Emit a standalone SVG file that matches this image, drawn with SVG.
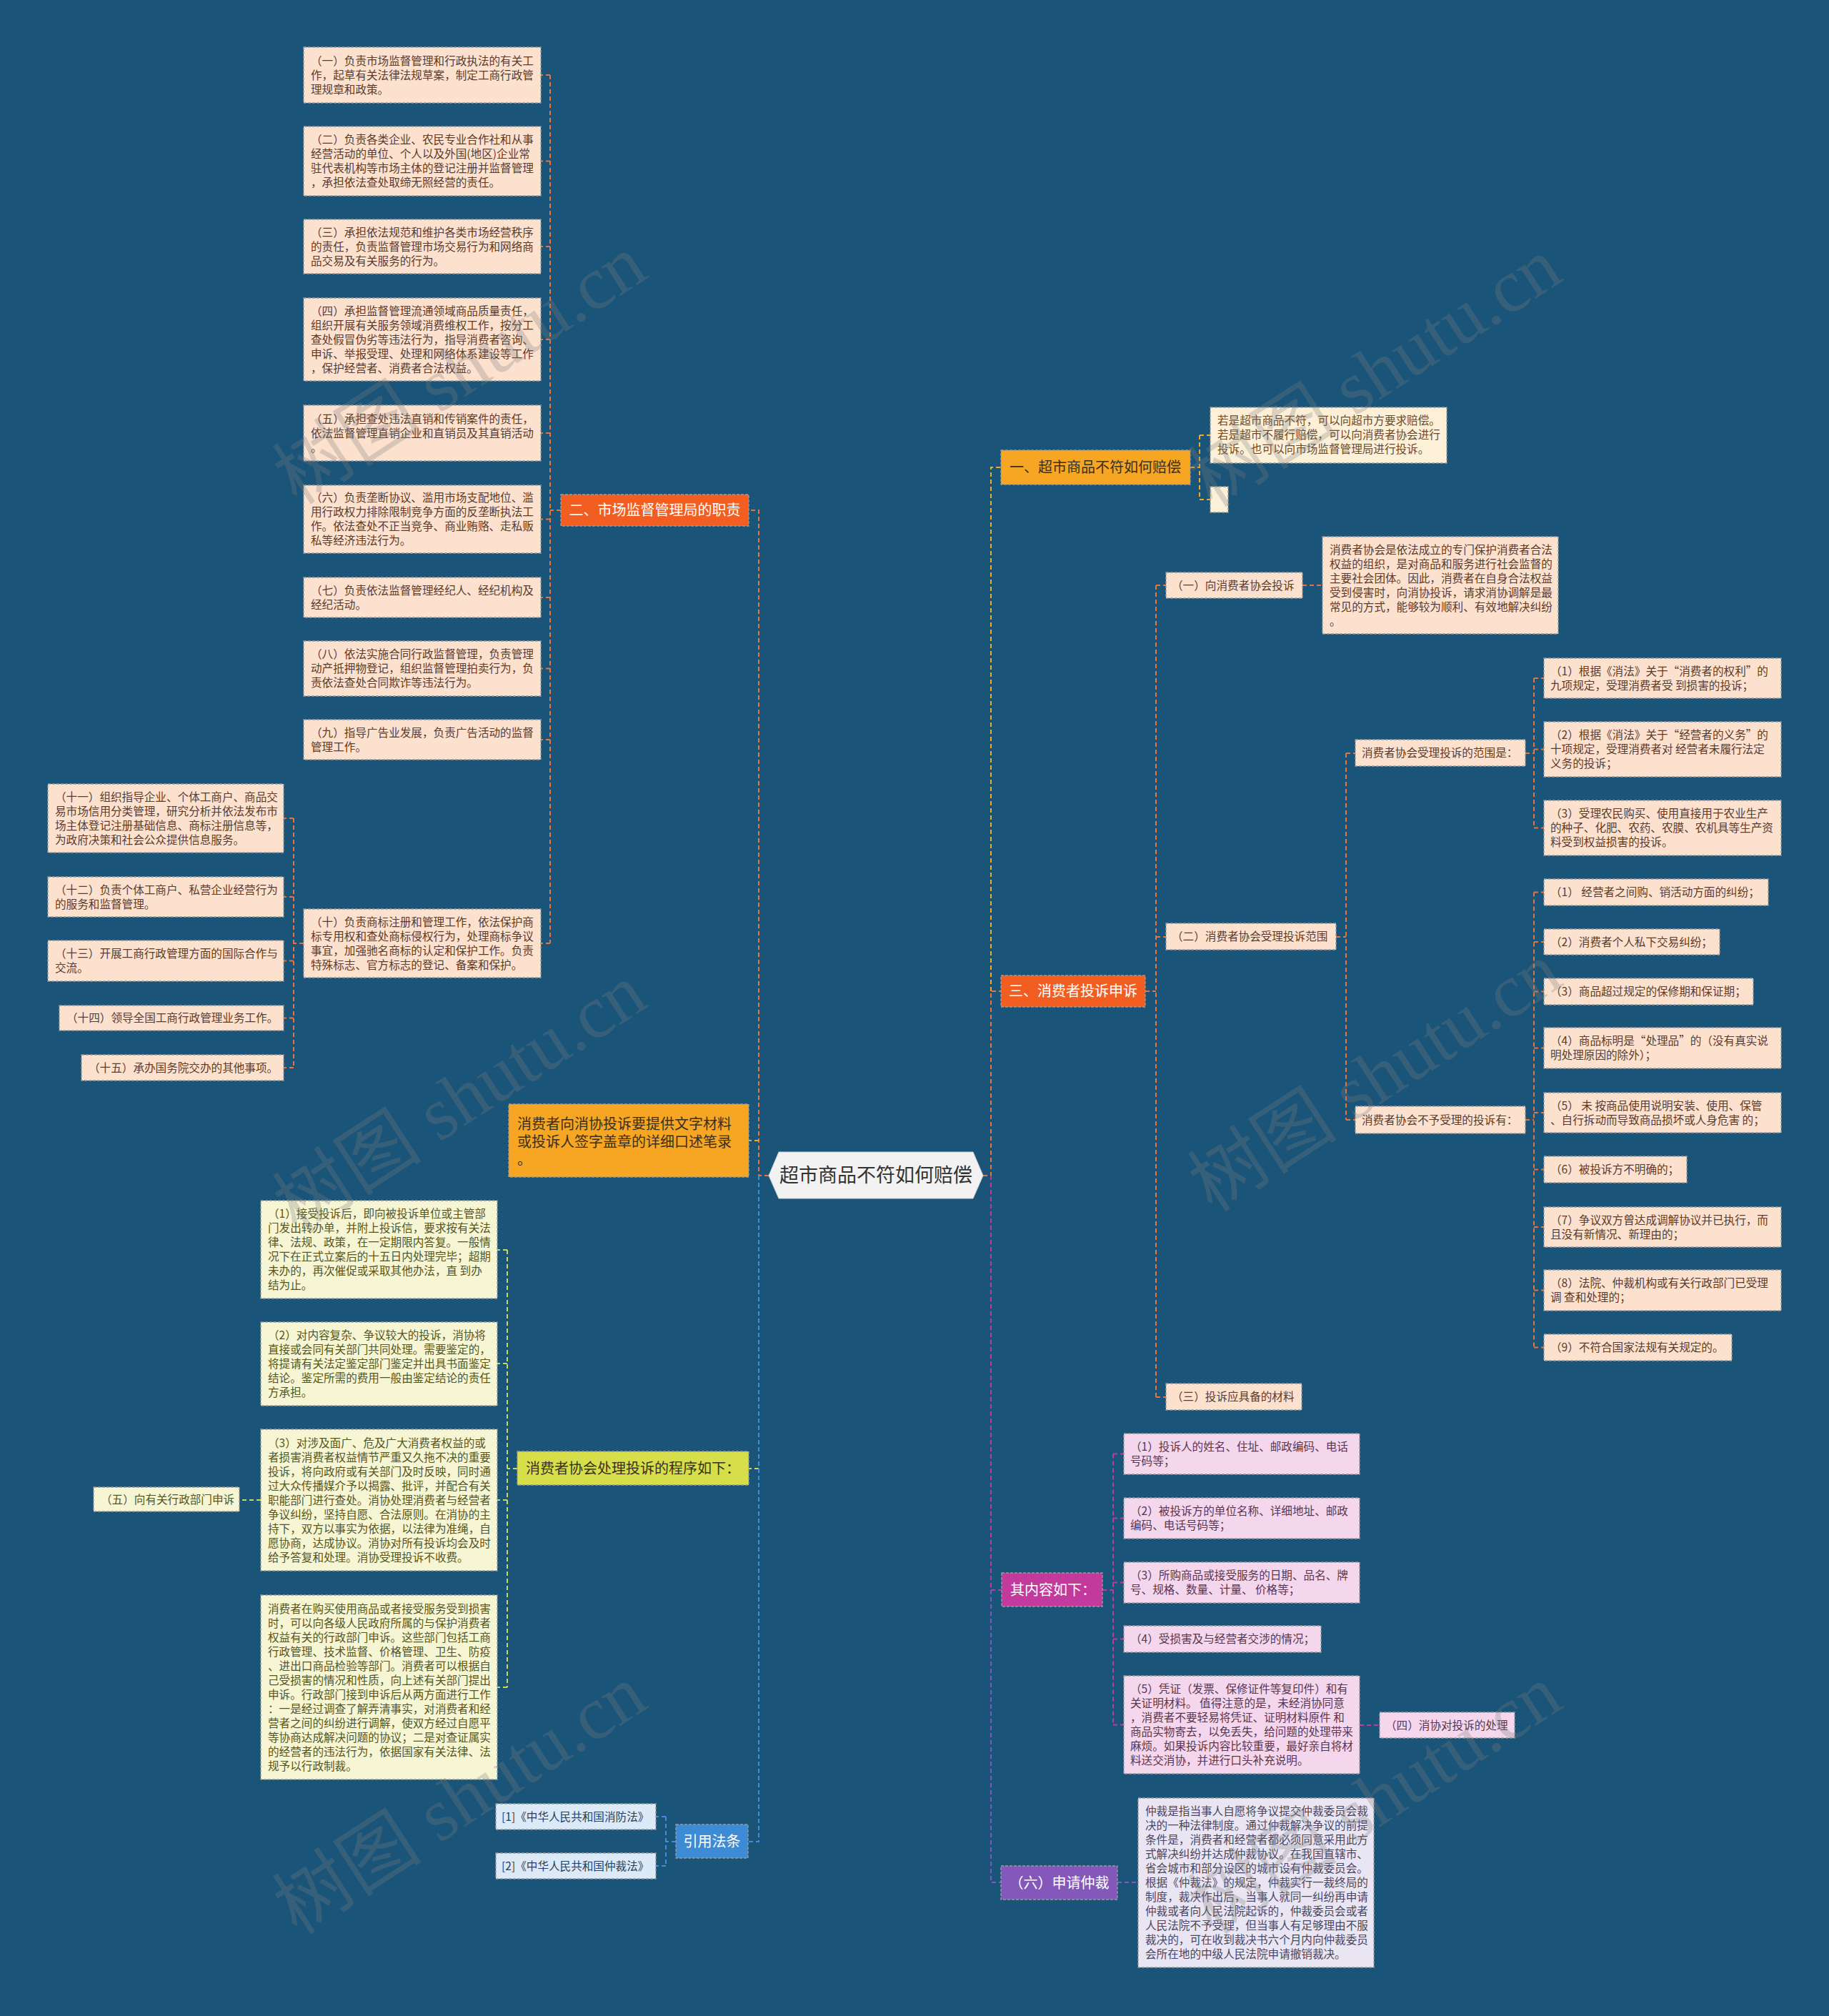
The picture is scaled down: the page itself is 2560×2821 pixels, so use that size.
<svg xmlns="http://www.w3.org/2000/svg" width="2560" height="2821" viewBox="0 0 2560 2821">
<style>
.tx{font-family:"Noto Sans CJK SC","Noto Sans",sans-serif;font-size:15.6px}
.tt{font-family:"Noto Sans CJK SC","Noto Sans",sans-serif;font-size:20px}
.bx{stroke:#9a9a9a;stroke-width:1.3;stroke-dasharray:4 2}
.peach{fill:#fde1cf}.cream{fill:#fdf0d8}.pyel{fill:#f6f5d4}.pink{fill:#f4d7ec}.lav{fill:#e9e5f3}.lblue{fill:#dce9f7}
.ored{fill:#f25e22}.amber{fill:#f6a623}.ygreen{fill:#d6df4a}.blue{fill:#3d8bd4}.mag{fill:#c23a9c}.purp{fill:#8458ba}
.cpeach{fill:#5b3b2b}.ccream{fill:#6b4a2a}.cyel{fill:#55551e}.cpink{fill:#5a3550}.clav{fill:#4a4560}.cblue{fill:#2c3e5a}.cw{fill:#ffffff}.cd{fill:#3a3020}
.ln{fill:none;stroke-width:2;stroke-dasharray:6 4}
.lo{stroke:#e8743b}.la{stroke:#f0a82a}.lyg{stroke:#cbd95a}.lb{stroke:#3f8fd8}.lm{stroke:#c2399b}.lp{stroke:#8257c0}
.wm{font-family:"Liberation Serif","Noto Sans CJK SC",serif;font-size:105px;fill:#808080;opacity:0.28}
</style>
<rect x="0" y="0" width="2560" height="2821" fill="#1a5479"/>

<g id="connectors">
<!-- left main -->
<path class="ln lo" d="M1076 1645 H1062 V714 H1048"/>
<path class="ln la" d="M1062 1596 H1048"/>
<path class="ln lyg" d="M1062 2055 H1048"/>
<path class="ln lb" d="M1062 1645 V2577 H1047"/>
<!-- 二 children -->
<path class="ln lo" d="M785 714 H770"/>
<path class="ln lo" d="M770 105 V1320"/>
<path class="ln lo" d="M770 105 H757 M770 225.5 H757 M770 345 H757 M770 475 H757 M770 606 H757 M770 726.5 H757 M770 836 H757 M770 935.5 H757 M770 1035 H757 M770 1320 H757"/>
<path class="ln lo" d="M425 1320 H411"/>
<path class="ln lo" d="M411 1145 V1494"/>
<path class="ln lo" d="M411 1145 H397 M411 1255 H397 M411 1344.5 H397 M411 1424.5 H397 M411 1494 H397"/>
<!-- 程序 children -->
<path class="ln lyg" d="M724 2055 H710"/>
<path class="ln lyg" d="M710 1749 V2361"/>
<path class="ln lyg" d="M710 1749 H696 M710 1908 H696 M710 2099 H696 M710 2361 H696"/>
<path class="ln lyg" d="M365 2099 H335"/>
<!-- 引用法条 children -->
<path class="ln lb" d="M946 2577 H932"/>
<path class="ln lb" d="M932 2542 V2611"/>
<path class="ln lb" d="M932 2542 H918 M932 2611 H918"/>
<!-- right main -->
<path class="ln lo" d="M1376 1645 H1387 V1387 H1401"/>
<path class="ln la" d="M1387 1387 V654 H1401"/>
<path class="ln lm" d="M1387 1645 V2225 H1402"/>
<path class="ln lp" d="M1387 2225 V2634 H1401"/>
<!-- 一 children -->
<path class="ln la" d="M1666 654 H1679"/>
<path class="ln la" d="M1679 609 V699"/>
<path class="ln la" d="M1679 609 H1694 M1679 699 H1694"/>
<!-- 三 children -->
<path class="ln lo" d="M1603 1387 H1618"/>
<path class="ln lo" d="M1618 819 V1955"/>
<path class="ln lo" d="M1618 819 H1632 M1618 1311 H1632 M1618 1955 H1632"/>
<path class="ln lo" d="M1823 819 H1851"/>
<path class="ln lo" d="M1870 1311 H1884"/>
<path class="ln lo" d="M1884 1054 V1567"/>
<path class="ln lo" d="M1884 1054 H1897 M1884 1567 H1897"/>
<path class="ln lo" d="M2135 1054 H2147"/>
<path class="ln lo" d="M2147 949 V1158.5"/>
<path class="ln lo" d="M2147 949 H2161 M2147 1048.5 H2161 M2147 1158.5 H2161"/>
<path class="ln lo" d="M2135 1567 H2147"/>
<path class="ln lo" d="M2147 1248.5 V1885.5"/>
<path class="ln lo" d="M2147 1248.5 H2161 M2147 1318 H2161 M2147 1387.5 H2161 M2147 1466.5 H2161 M2147 1557 H2161 M2147 1636.5 H2161 M2147 1717 H2161 M2147 1805.5 H2161 M2147 1885.5 H2161"/>
<!-- 其内容 children -->
<path class="ln lm" d="M1543 2225 H1558"/>
<path class="ln lm" d="M1558 2034.5 V2413.5"/>
<path class="ln lm" d="M1558 2034.5 H1573 M1558 2124.5 H1573 M1558 2214.5 H1573 M1558 2293.5 H1573 M1558 2413.5 H1573"/>
<path class="ln lm" d="M1903 2414 H1931"/>
<path class="ln lp" d="M1564 2634 H1593"/>
</g>

<g id="center">
<polygon points="1076,1645 1090,1612 1362,1612 1376,1645 1362,1677 1090,1677" fill="#f2f2f2" stroke="#cfcfcf" stroke-width="1"/>
<text class="tx" x="1226" y="1654" text-anchor="middle" style="font-size:27px" fill="#333333">超市商品不符如何赔偿</text>
</g>

<!-- LEFT: 二 -->
<g id="n-er">
<rect class="bx ored" x="785" y="692" width="263" height="44"/>
<text class="tt cw" x="916.5" y="721" text-anchor="middle">二、市场监督管理局的职责</text>
</g>
<g id="n-er-1"><rect class="bx peach" x="425" y="66" width="332" height="78"/>
<text class="tx cpeach" x="435" y="90.5"><tspan x="435">（一）负责市场监督管理和行政执法的有关工</tspan><tspan x="435" dy="20">作，起草有关法律法规草案，制定工商行政管</tspan><tspan x="435" dy="20">理规章和政策。</tspan></text></g>
<g id="n-er-2"><rect class="bx peach" x="425" y="177" width="332" height="97"/>
<text class="tx cpeach" x="435" y="201"><tspan x="435">（二）负责各类企业、农民专业合作社和从事</tspan><tspan x="435" dy="20">经营活动的单位、个人以及外国(地区)企业常</tspan><tspan x="435" dy="20">驻代表机构等市场主体的登记注册并监督管理</tspan><tspan x="435" dy="20">，承担依法查处取缔无照经营的责任。</tspan></text></g>
<g id="n-er-3"><rect class="bx peach" x="425" y="307" width="332" height="76"/>
<text class="tx cpeach" x="435" y="330.5"><tspan x="435">（三）承担依法规范和维护各类市场经营秩序</tspan><tspan x="435" dy="20">的责任，负责监督管理市场交易行为和网络商</tspan><tspan x="435" dy="20">品交易及有关服务的行为。</tspan></text></g>
<g id="n-er-4"><rect class="bx peach" x="425" y="417" width="332" height="116"/>
<text class="tx cpeach" x="435" y="440.5"><tspan x="435">（四）承担监督管理流通领域商品质量责任，</tspan><tspan x="435" dy="20">组织开展有关服务领域消费维权工作，按分工</tspan><tspan x="435" dy="20">查处假冒伪劣等违法行为，指导消费者咨询、</tspan><tspan x="435" dy="20">申诉、举报受理、处理和网络体系建设等工作</tspan><tspan x="435" dy="20">，保护经营者、消费者合法权益。</tspan></text></g>
<g id="n-er-5"><rect class="bx peach" x="425" y="567" width="332" height="78"/>
<text class="tx cpeach" x="435" y="591.5"><tspan x="435">（五）承担查处违法直销和传销案件的责任，</tspan><tspan x="435" dy="20">依法监督管理直销企业和直销员及其直销活动</tspan><tspan x="435" dy="20">。</tspan></text></g>
<g id="n-er-6"><rect class="bx peach" x="425" y="679" width="332" height="95"/>
<text class="tx cpeach" x="435" y="702"><tspan x="435">（六）负责垄断协议、滥用市场支配地位、滥</tspan><tspan x="435" dy="20">用行政权力排除限制竞争方面的反垄断执法工</tspan><tspan x="435" dy="20">作。依法查处不正当竞争、商业贿赂、走私贩</tspan><tspan x="435" dy="20">私等经济违法行为。</tspan></text></g>
<g id="n-er-7"><rect class="bx peach" x="425" y="808" width="332" height="56"/>
<text class="tx cpeach" x="435" y="831.5"><tspan x="435">（七）负责依法监督管理经纪人、经纪机构及</tspan><tspan x="435" dy="20">经纪活动。</tspan></text></g>
<g id="n-er-8"><rect class="bx peach" x="425" y="897" width="332" height="77"/>
<text class="tx cpeach" x="435" y="921"><tspan x="435">（八）依法实施合同行政监督管理，负责管理</tspan><tspan x="435" dy="20">动产抵押物登记，组织监督管理拍卖行为，负</tspan><tspan x="435" dy="20">责依法查处合同欺诈等违法行为。</tspan></text></g>
<g id="n-er-9"><rect class="bx peach" x="425" y="1007" width="332" height="56"/>
<text class="tx cpeach" x="435" y="1030.5"><tspan x="435">（九）指导广告业发展，负责广告活动的监督</tspan><tspan x="435" dy="20">管理工作。</tspan></text></g>
<g id="n-er-10"><rect class="bx peach" x="425" y="1272" width="332" height="96"/>
<text class="tx cpeach" x="435" y="1295.5"><tspan x="435">（十）负责商标注册和管理工作，依法保护商</tspan><tspan x="435" dy="20">标专用权和查处商标侵权行为，处理商标争议</tspan><tspan x="435" dy="20">事宜，加强驰名商标的认定和保护工作。负责</tspan><tspan x="435" dy="20">特殊标志、官方标志的登记、备案和保护。</tspan></text></g>
<g id="n-er-11"><rect class="bx peach" x="67" y="1097" width="330" height="96"/>
<text class="tx cpeach" x="77" y="1120.5"><tspan x="77">（十一）组织指导企业、个体工商户、商品交</tspan><tspan x="77" dy="20">易市场信用分类管理，研究分析并依法发布市</tspan><tspan x="77" dy="20">场主体登记注册基础信息、商标注册信息等，</tspan><tspan x="77" dy="20">为政府决策和社会公众提供信息服务。</tspan></text></g>
<g id="n-er-12"><rect class="bx peach" x="67" y="1227" width="330" height="56"/>
<text class="tx cpeach" x="77" y="1250.5"><tspan x="77">（十二）负责个体工商户、私营企业经营行为</tspan><tspan x="77" dy="20">的服务和监督管理。</tspan></text></g>
<g id="n-er-13"><rect class="bx peach" x="67" y="1316" width="330" height="57"/>
<text class="tx cpeach" x="77" y="1340"><tspan x="77">（十三）开展工商行政管理方面的国际合作与</tspan><tspan x="77" dy="20">交流。</tspan></text></g>
<g id="n-er-14"><rect class="bx peach" x="83" y="1407" width="314" height="35"/>
<text class="tx cpeach" x="93" y="1430">（十四）领导全国工商行政管理业务工作。</text></g>
<g id="n-er-15"><rect class="bx peach" x="114" y="1476" width="283" height="36"/>
<text class="tx cpeach" x="124" y="1499.5">（十五）承办国务院交办的其他事项。</text></g>

<!-- LEFT: 消费者向消协 -->
<g id="n-material">
<rect class="bx amber" x="712" y="1545" width="336" height="102"/>
<text class="tt cd" x="724" y="1580"><tspan x="724">消费者向消协投诉要提供文字材料</tspan><tspan x="724" dy="25">或投诉人签字盖章的详细口述笔录</tspan><tspan x="724" dy="25">。</tspan></text>
</g>

<!-- LEFT: 程序 -->
<g id="n-proc">
<rect class="bx ygreen" x="724" y="2031" width="324" height="47"/>
<text class="tt cd" x="736" y="2061.5">消费者协会处理投诉的程序如下：</text>
</g>
<g id="n-proc-1"><rect class="bx pyel" x="365" y="1680" width="331" height="137"/>
<text class="tx cyel" x="375" y="1704"><tspan x="375">（1）接受投诉后，即向被投诉单位或主管部</tspan><tspan x="375" dy="20">门发出转办单，并附上投诉信，要求按有关法</tspan><tspan x="375" dy="20">律、法规、政策，在一定期限内答复。一般情</tspan><tspan x="375" dy="20">况下在正式立案后的十五日内处理完毕；超期</tspan><tspan x="375" dy="20">未办的，再次催促或采取其他办法，直 到办</tspan><tspan x="375" dy="20">结为止。</tspan></text></g>
<g id="n-proc-2"><rect class="bx pyel" x="365" y="1850" width="331" height="117"/>
<text class="tx cyel" x="375" y="1874"><tspan x="375">（2）对内容复杂、争议较大的投诉，消协将</tspan><tspan x="375" dy="20">直接或会同有关部门共同处理。需要鉴定的，</tspan><tspan x="375" dy="20">将提请有关法定鉴定部门鉴定并出具书面鉴定</tspan><tspan x="375" dy="20">结论。鉴定所需的费用一般由鉴定结论的责任</tspan><tspan x="375" dy="20">方承担。</tspan></text></g>
<g id="n-proc-3"><rect class="bx pyel" x="365" y="2000" width="331" height="198"/>
<text class="tx cyel" x="375" y="2024.5"><tspan x="375">（3）对涉及面广、危及广大消费者权益的或</tspan><tspan x="375" dy="20">者损害消费者权益情节严重又久拖不决的重要</tspan><tspan x="375" dy="20">投诉，将向政府或有关部门及时反映，同时通</tspan><tspan x="375" dy="20">过大众传播媒介予以揭露、批评，并配合有关</tspan><tspan x="375" dy="20">职能部门进行查处。消协处理消费者与经营者</tspan><tspan x="375" dy="20">争议纠纷，坚持自愿、合法原则。在消协的主</tspan><tspan x="375" dy="20">持下，双方以事实为依据，以法律为准绳，自</tspan><tspan x="375" dy="20">愿协商，达成协议。消协对所有投诉均会及时</tspan><tspan x="375" dy="20">给予答复和处理。消协受理投诉不收费。</tspan></text></g>
<g id="n-proc-5"><rect class="bx pyel" x="131" y="2081" width="204" height="34"/>
<text class="tx cyel" x="141" y="2103.5">（五）向有关行政部门申诉</text></g>
<g id="n-proc-4"><rect class="bx pyel" x="365" y="2232" width="331" height="258"/>
<text class="tx cyel" x="375" y="2256.5"><tspan x="375">消费者在购买使用商品或者接受服务受到损害</tspan><tspan x="375" dy="20">时，可以向各级人民政府所属的与保护消费者</tspan><tspan x="375" dy="20">权益有关的行政部门申诉。这些部门包括工商</tspan><tspan x="375" dy="20">行政管理、技术监督、价格管理、卫生、防疫</tspan><tspan x="375" dy="20">、进出口商品检验等部门。消费者可以根据自</tspan><tspan x="375" dy="20">己受损害的情况和性质，向上述有关部门提出</tspan><tspan x="375" dy="20">申诉。行政部门接到申诉后从两方面进行工作</tspan><tspan x="375" dy="20">：一是经过调查了解弄清事实，对消费者和经</tspan><tspan x="375" dy="20">营者之间的纠纷进行调解，使双方经过自愿平</tspan><tspan x="375" dy="20">等协商达成解决问题的协议；二是对查证属实</tspan><tspan x="375" dy="20">的经营者的违法行为，依据国家有关法律、法</tspan><tspan x="375" dy="20">规予以行政制裁。</tspan></text></g>

<!-- LEFT: 引用法条 -->
<g id="n-law">
<rect class="bx blue" x="946" y="2553" width="101" height="47"/>
<text class="tt cw" x="996.5" y="2583.5" text-anchor="middle">引用法条</text>
</g>
<g id="n-law-1"><rect class="bx lblue" x="694" y="2524" width="224" height="36"/>
<text class="tx cblue" x="702" y="2547.5">[1]《中华人民共和国消防法》</text></g>
<g id="n-law-2"><rect class="bx lblue" x="694" y="2593" width="224" height="36"/>
<text class="tx cblue" x="702" y="2616.5">[2]《中华人民共和国仲裁法》</text></g>

<!-- RIGHT: 一 -->
<g id="n-yi">
<rect class="bx amber" x="1401" y="630" width="265" height="48"/>
<text class="tt cd" x="1413" y="661">一、超市商品不符如何赔偿</text>
</g>
<g id="n-yi-1"><rect class="bx cream" x="1694" y="570" width="331" height="78"/>
<text class="tx ccream" x="1704" y="593.5"><tspan x="1704">若是超市商品不符，可以向超市方要求赔偿。</tspan><tspan x="1704" dy="20">若是超市不履行赔偿，可以向消费者协会进行</tspan><tspan x="1704" dy="20">投诉。也可以向市场监督管理局进行投诉。</tspan></text></g>
<g id="n-yi-2"><rect class="bx cream" x="1694" y="681" width="25" height="36"/></g>

<!-- RIGHT: 三 -->
<g id="n-san">
<rect class="bx ored" x="1401" y="1365" width="202" height="44"/>
<text class="tt cw" x="1502" y="1394" text-anchor="middle">三、消费者投诉申诉</text>
</g>
<g id="n-san-1"><rect class="bx peach" x="1632" y="801" width="191" height="36"/>
<text class="tx cpeach" x="1640" y="824.5">（一）向消费者协会投诉</text></g>
<g id="n-san-1a"><rect class="bx peach" x="1851" y="751" width="330" height="136"/>
<text class="tx cpeach" x="1861" y="774.5"><tspan x="1861">消费者协会是依法成立的专门保护消费者合法</tspan><tspan x="1861" dy="20">权益的组织，是对商品和服务进行社会监督的</tspan><tspan x="1861" dy="20">主要社会团体。因此，消费者在自身合法权益</tspan><tspan x="1861" dy="20">受到侵害时，向消协投诉，请求消协调解是最</tspan><tspan x="1861" dy="20">常见的方式，能够较为顺利、有效地解决纠纷</tspan><tspan x="1861" dy="20">。</tspan></text></g>
<g id="n-san-2"><rect class="bx peach" x="1632" y="1292" width="238" height="37"/>
<text class="tx cpeach" x="1640" y="1316">（二）消费者协会受理投诉范围</text></g>
<g id="n-scope"><rect class="bx peach" x="1897" y="1035" width="238" height="37"/>
<text class="tx cpeach" x="1906" y="1059">消费者协会受理投诉的范围是：</text></g>
<g id="n-scope-1"><rect class="bx peach" x="2161" y="921" width="332" height="56"/>
<text class="tx cpeach" x="2170" y="944.5"><tspan x="2170">（1）根据《消法》关于“消费者的权利”的</tspan><tspan x="2170" dy="20">九项规定，受理消费者受 到损害的投诉；</tspan></text></g>
<g id="n-scope-2"><rect class="bx peach" x="2161" y="1010" width="332" height="77"/>
<text class="tx cpeach" x="2170" y="1034"><tspan x="2170">（2）根据《消法》关于“经营者的义务”的</tspan><tspan x="2170" dy="20">十项规定，受理消费者对 经营者未履行法定</tspan><tspan x="2170" dy="20">义务的投诉；</tspan></text></g>
<g id="n-scope-3"><rect class="bx peach" x="2161" y="1120" width="332" height="77"/>
<text class="tx cpeach" x="2170" y="1144"><tspan x="2170">（3）受理农民购买、使用直接用于农业生产</tspan><tspan x="2170" dy="20">的种子、化肥、农药、农膜、农机具等生产资</tspan><tspan x="2170" dy="20">料受到权益损害的投诉。</tspan></text></g>
<g id="n-reject"><rect class="bx peach" x="1897" y="1548" width="238" height="38"/>
<text class="tx cpeach" x="1906" y="1572.5">消费者协会不予受理的投诉有：</text></g>
<g id="n-reject-1"><rect class="bx peach" x="2161" y="1230" width="314" height="37"/>
<text class="tx cpeach" x="2170" y="1254">（1） 经营者之间购、销活动方面的纠纷；</text></g>
<g id="n-reject-2"><rect class="bx peach" x="2161" y="1300" width="246" height="36"/>
<text class="tx cpeach" x="2170" y="1323.5">（2）消费者个人私下交易纠纷；</text></g>
<g id="n-reject-3"><rect class="bx peach" x="2161" y="1369" width="293" height="37"/>
<text class="tx cpeach" x="2170" y="1393">（3）商品超过规定的保修期和保证期；</text></g>
<g id="n-reject-4"><rect class="bx peach" x="2161" y="1438" width="332" height="57"/>
<text class="tx cpeach" x="2170" y="1462"><tspan x="2170">（4）商品标明是“处理品”的（没有真实说</tspan><tspan x="2170" dy="20">明处理原因的除外）；</tspan></text></g>
<g id="n-reject-5"><rect class="bx peach" x="2161" y="1529" width="332" height="56"/>
<text class="tx cpeach" x="2170" y="1552.5"><tspan x="2170">（5） 未 按商品使用说明安装、使用、保管</tspan><tspan x="2170" dy="20">、自行拆动而导致商品损坏或人身危害 的；</tspan></text></g>
<g id="n-reject-6"><rect class="bx peach" x="2161" y="1618" width="200" height="37"/>
<text class="tx cpeach" x="2170" y="1642">（6）被投诉方不明确的；</text></g>
<g id="n-reject-7"><rect class="bx peach" x="2161" y="1689" width="332" height="56"/>
<text class="tx cpeach" x="2170" y="1712.5"><tspan x="2170">（7）争议双方曾达成调解协议并已执行，而</tspan><tspan x="2170" dy="20">且没有新情况、新理由的；</tspan></text></g>
<g id="n-reject-8"><rect class="bx peach" x="2161" y="1777" width="332" height="57"/>
<text class="tx cpeach" x="2170" y="1801"><tspan x="2170">（8）法院、仲裁机构或有关行政部门已受理</tspan><tspan x="2170" dy="20">调 查和处理的；</tspan></text></g>
<g id="n-reject-9"><rect class="bx peach" x="2161" y="1867" width="263" height="37"/>
<text class="tx cpeach" x="2170" y="1891">（9）不符合国家法规有关规定的。</text></g>
<g id="n-san-3"><rect class="bx peach" x="1632" y="1936" width="190" height="37"/>
<text class="tx cpeach" x="1640" y="1960">（三）投诉应具备的材料</text></g>

<!-- RIGHT: 其内容如下 -->
<g id="n-content">
<rect class="bx mag" x="1402" y="2201" width="141" height="47"/>
<text class="tt cw" x="1414" y="2231.5">其内容如下：</text>
</g>
<g id="n-content-1"><rect class="bx pink" x="1573" y="2006" width="330" height="57"/>
<text class="tx cpink" x="1582" y="2030"><tspan x="1582">（1）投诉人的姓名、住址、邮政编码、电话</tspan><tspan x="1582" dy="20">号码等；</tspan></text></g>
<g id="n-content-2"><rect class="bx pink" x="1573" y="2096" width="330" height="57"/>
<text class="tx cpink" x="1582" y="2120"><tspan x="1582">（2）被投诉方的单位名称、详细地址、邮政</tspan><tspan x="1582" dy="20">编码、电话号码等；</tspan></text></g>
<g id="n-content-3"><rect class="bx pink" x="1573" y="2186" width="330" height="57"/>
<text class="tx cpink" x="1582" y="2210"><tspan x="1582">（3）所购商品或接受服务的日期、品名、牌</tspan><tspan x="1582" dy="20">号、规格、数量、计量、 价格等；</tspan></text></g>
<g id="n-content-4"><rect class="bx pink" x="1573" y="2275" width="276" height="37"/>
<text class="tx cpink" x="1582" y="2299">（4）受损害及与经营者交涉的情况；</text></g>
<g id="n-content-5"><rect class="bx pink" x="1573" y="2345" width="330" height="137"/>
<text class="tx cpink" x="1582" y="2369"><tspan x="1582">（5）凭证（发票、保修证件等复印件）和有</tspan><tspan x="1582" dy="20">关证明材料。 值得注意的是，未经消协同意</tspan><tspan x="1582" dy="20">，消费者不要轻易将凭证、证明材料原件 和</tspan><tspan x="1582" dy="20">商品实物寄去，以免丢失，给问题的处理带来</tspan><tspan x="1582" dy="20">麻烦。如果投诉内容比较重要，最好亲自将材</tspan><tspan x="1582" dy="20">料送交消协，并进行口头补充说明。</tspan></text></g>
<g id="n-content-si"><rect class="bx pink" x="1931" y="2396" width="189" height="36"/>
<text class="tx cpink" x="1939" y="2419.5">（四）消协对投诉的处理</text></g>

<!-- RIGHT: 六 -->
<g id="n-liu">
<rect class="bx purp" x="1401" y="2611" width="163" height="47"/>
<text class="tt cw" x="1482.5" y="2641.5" text-anchor="middle">（六）申请仲裁</text>
</g>
<g id="n-liu-1"><rect class="bx lav" x="1593" y="2516" width="330" height="237"/>
<text class="tx clav" x="1603" y="2540"><tspan x="1603">仲裁是指当事人自愿将争议提交仲裁委员会裁</tspan><tspan x="1603" dy="20">决的一种法律制度。通过仲裁解决争议的前提</tspan><tspan x="1603" dy="20">条件是，消费者和经营者都必须同意采用此方</tspan><tspan x="1603" dy="20">式解决纠纷并达成仲裁协议。在我国直辖市、</tspan><tspan x="1603" dy="20">省会城市和部分设区的城市设有仲裁委员会。</tspan><tspan x="1603" dy="20">根据《仲裁法》的规定，仲裁实行一裁终局的</tspan><tspan x="1603" dy="20">制度，裁决作出后，当事人就同一纠纷再申请</tspan><tspan x="1603" dy="20">仲裁或者向人民法院起诉的，仲裁委员会或者</tspan><tspan x="1603" dy="20">人民法院不予受理，但当事人有足够理由不服</tspan><tspan x="1603" dy="20">裁决的，可在收到裁决书六个月内向仲裁委员</tspan><tspan x="1603" dy="20">会所在地的中级人民法院申请撤销裁决。</tspan></text></g>

<g id="watermark">
<text class="wm" x="644" y="553" text-anchor="middle" transform="rotate(-33 644 518)">树图 shutu.cn</text>
<text class="wm" x="644" y="1573" text-anchor="middle" transform="rotate(-33 644 1538)">树图 shutu.cn</text>
<text class="wm" x="644" y="2554" text-anchor="middle" transform="rotate(-33 644 2519)">树图 shutu.cn</text>
<text class="wm" x="1925" y="557" text-anchor="middle" transform="rotate(-33 1925 522)">树图 shutu.cn</text>
<text class="wm" x="1925" y="1543" text-anchor="middle" transform="rotate(-33 1925 1508)">树图 shutu.cn</text>
<text class="wm" x="1925" y="2554" text-anchor="middle" transform="rotate(-33 1925 2519)">树图 shutu.cn</text>
</g>
</svg>
